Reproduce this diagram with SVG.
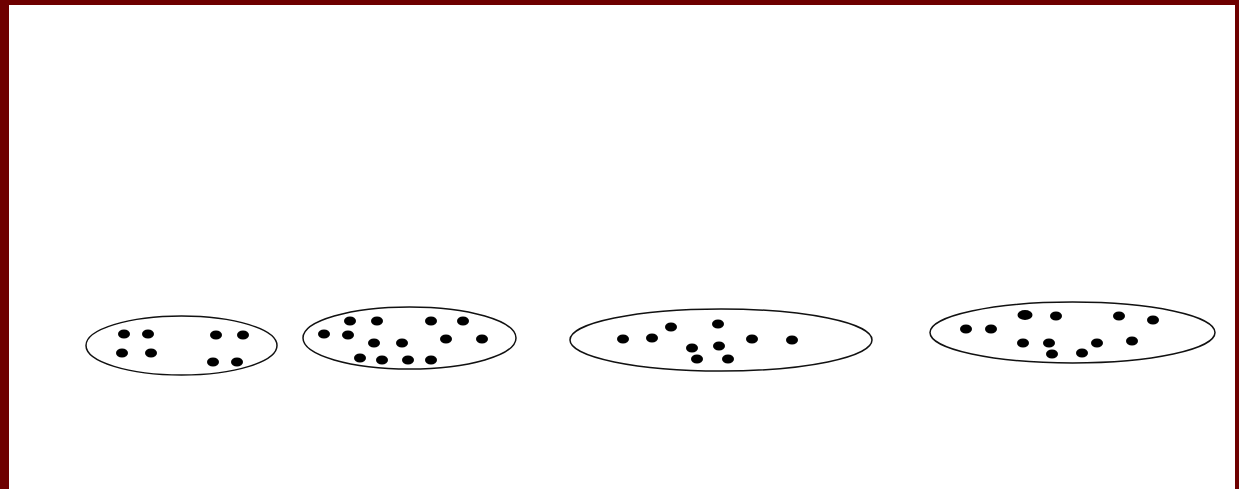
<svg xmlns="http://www.w3.org/2000/svg" width="1239" height="489" viewBox="0 0 1239 489">
<style>
.e{fill:#fff;stroke:#111;stroke-width:1.5}
.d{fill:#000}
</style>
<defs><ellipse id="dot" class="d" cx="0" cy="0" rx="6" ry="4.5"/></defs>
<rect x="0" y="0" width="1239" height="489" fill="#6e0000"/>
<rect x="9" y="5" width="1226" height="484" fill="#fff"/>
<g id="set1">
<ellipse class="e" cx="181.5" cy="345.5" rx="95.5" ry="29.5"/>
<use href="#dot" x="124" y="334"/><use href="#dot" x="148" y="334"/><use href="#dot" x="216" y="335"/><use href="#dot" x="243" y="335"/>
<use href="#dot" x="122" y="353"/><use href="#dot" x="151" y="353"/><use href="#dot" x="213" y="362"/><use href="#dot" x="237" y="362"/>
</g>
<g id="set2">
<ellipse class="e" cx="409.5" cy="338" rx="106.5" ry="31"/>
<use href="#dot" x="350" y="321"/><use href="#dot" x="377" y="321"/><use href="#dot" x="431" y="321"/><use href="#dot" x="463" y="321"/>
<use href="#dot" x="324" y="334"/><use href="#dot" x="348" y="335"/><use href="#dot" x="374" y="343"/><use href="#dot" x="402" y="343"/>
<use href="#dot" x="446" y="339"/><use href="#dot" x="482" y="339"/><use href="#dot" x="360" y="358"/><use href="#dot" x="382" y="360"/>
<use href="#dot" x="408" y="360"/><use href="#dot" x="431" y="360"/>
</g>
<g id="set3">
<ellipse class="e" cx="721" cy="340" rx="151" ry="31"/>
<use href="#dot" x="623" y="339"/><use href="#dot" x="652" y="338"/><use href="#dot" x="671" y="327"/><use href="#dot" x="718" y="324"/>
<use href="#dot" x="752" y="339"/><use href="#dot" x="792" y="340"/><use href="#dot" x="692" y="348"/><use href="#dot" x="719" y="346"/>
<use href="#dot" x="697" y="359"/><use href="#dot" x="728" y="359"/>
</g>
<g id="set4">
<ellipse class="e" cx="1072.5" cy="332.5" rx="142.5" ry="30.5"/>
<ellipse class="d" cx="1025" cy="315" rx="7.5" ry="5"/>
<use href="#dot" x="1056" y="316"/><use href="#dot" x="1119" y="316"/><use href="#dot" x="1153" y="320"/>
<use href="#dot" x="966" y="329"/><use href="#dot" x="991" y="329"/><use href="#dot" x="1023" y="343"/><use href="#dot" x="1049" y="343"/>
<use href="#dot" x="1097" y="343"/><use href="#dot" x="1132" y="341"/><use href="#dot" x="1052" y="354"/><use href="#dot" x="1082" y="353"/>
</g>
<g id="connectors"/>
</svg>
